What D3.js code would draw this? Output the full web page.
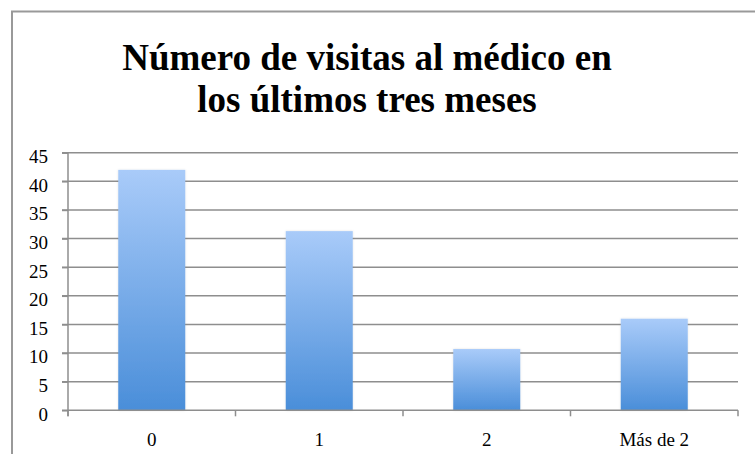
<!DOCTYPE html>
<html>
<head>
<meta charset="utf-8">
<script src="https://cdn.jsdelivr.net/npm/d3@7/dist/d3.min.js"></script>
<style>
  html, body { margin: 0; padding: 0; background: #fff; }
  svg { display: block; }
</style>
</head>
<body>
<svg id="chart" width="755" height="454"></svg>
<script>
// Number of doctor visits in the last three months (%)
const categories = ["0", "1", "2", "Más de 2"];
const values = [42, 31.3, 10.7, 16.0];
const yTicks = [0, 5, 10, 15, 20, 25, 30, 35, 40, 45];
const titleLines = ["Número de visitas al médico en", "los últimos tres meses"];

const width = 755, height = 454;
const margin = { top: 152.7, right: 17, bottom: 43.7, left: 68 };

const svg = d3.select("#chart");
const font = "'Liberation Serif', 'DejaVu Serif', serif";

// outer chart frame (runs off the right and bottom edges)
svg.append("rect")
  .attr("x", 12).attr("y", 11.5)
  .attr("width", 800).attr("height", 500)
  .attr("fill", "none")
  .attr("stroke", "#999")
  .attr("stroke-width", 2);

// bar gradient
const defs = svg.append("defs");
const grad = defs.append("linearGradient")
  .attr("id", "barGrad").attr("x1", 0).attr("y1", 0).attr("x2", 0).attr("y2", 1);
grad.append("stop").attr("offset", "0%").attr("stop-color", "#a9cbf9");
grad.append("stop").attr("offset", "100%").attr("stop-color", "#4a8ed9");

const shadow = defs.append("filter").attr("id", "soft")
  .attr("x", "-10%").attr("y", "-10%").attr("width", "120%").attr("height", "120%");
shadow.append("feGaussianBlur").attr("in", "SourceAlpha").attr("stdDeviation", 1.2).attr("result", "b");
shadow.append("feFlood").attr("flood-color", "#000").attr("flood-opacity", 0.12);
shadow.append("feComposite").attr("in2", "b").attr("operator", "in").attr("result", "s");
const merge = shadow.append("feMerge");
merge.append("feMergeNode").attr("in", "s");
merge.append("feMergeNode").attr("in", "SourceGraphic");

const x = d3.scaleBand()
  .domain(categories)
  .range([margin.left, width - margin.right])
  .paddingInner(0.6)
  .paddingOuter(0.3);

const y = d3.scaleLinear()
  .domain([0, 45])
  .range([height - margin.bottom, margin.top]);

// horizontal gridlines
svg.append("g")
  .selectAll("line")
  .data(yTicks.filter(d => d > 0))
  .join("line")
  .attr("x1", margin.left - 6).attr("x2", width - margin.right)
  .attr("y1", d => y(d)).attr("y2", d => y(d))
  .attr("stroke", "#8e8e8e").attr("stroke-width", 1.5);

// y axis
const yAxis = svg.append("g")
  .attr("transform", `translate(${margin.left},0)`)
  .call(d3.axisLeft(y).tickValues(yTicks).tickSize(6).tickPadding(14).tickFormat(d3.format("d")));
yAxis.select(".domain").attr("stroke", "#8e8e8e").attr("stroke-width", 1.5)
  .attr("d", `M0,${y(0) + 6}V${margin.top}`);
yAxis.selectAll(".tick line").attr("stroke", "#8e8e8e").attr("stroke-width", 1.5);
yAxis.selectAll("text")
  .attr("font-family", font).attr("font-size", 19).attr("fill", "#000")
  .attr("dy", "0.52em");

// bars
svg.append("g")
  .selectAll("rect")
  .data(values)
  .join("rect")
  .attr("x", (d, i) => x(categories[i]))
  .attr("width", x.bandwidth())
  .attr("y", d => y(d))
  .attr("height", d => y(0) - y(d))
  .attr("fill", "url(#barGrad)")
  .attr("filter", "url(#soft)");

// x axis with ticks at category boundaries
const plotW = width - margin.right - margin.left;
const xg = svg.append("g").attr("transform", `translate(0,${y(0)})`);
xg.append("line")
  .attr("x1", margin.left - 6).attr("x2", width - margin.right)
  .attr("stroke", "#8e8e8e").attr("stroke-width", 1.5);
xg.selectAll(".bt")
  .data(d3.range(categories.length + 1))
  .join("line")
  .attr("class", "bt")
  .attr("x1", i => margin.left + i * plotW / categories.length)
  .attr("x2", i => margin.left + i * plotW / categories.length)
  .attr("y1", 0).attr("y2", 6)
  .attr("stroke", "#8e8e8e").attr("stroke-width", 1.5);
xg.selectAll("text")
  .data(categories)
  .join("text")
  .attr("x", d => x(d) + x.bandwidth() / 2)
  .attr("y", 36)
  .attr("text-anchor", "middle")
  .attr("font-family", font).attr("font-size", 19).attr("fill", "#000")
  .text(d => d);

// title
svg.append("g")
  .selectAll("text")
  .data(titleLines)
  .join("text")
  .attr("x", 367)
  .attr("y", (d, i) => 70 + i * 42)
  .attr("text-anchor", "middle")
  .attr("font-family", font).attr("font-weight", "bold").attr("font-size", 37)
  .attr("fill", "#000")
  .text(d => d);
</script>
</body>
</html>
